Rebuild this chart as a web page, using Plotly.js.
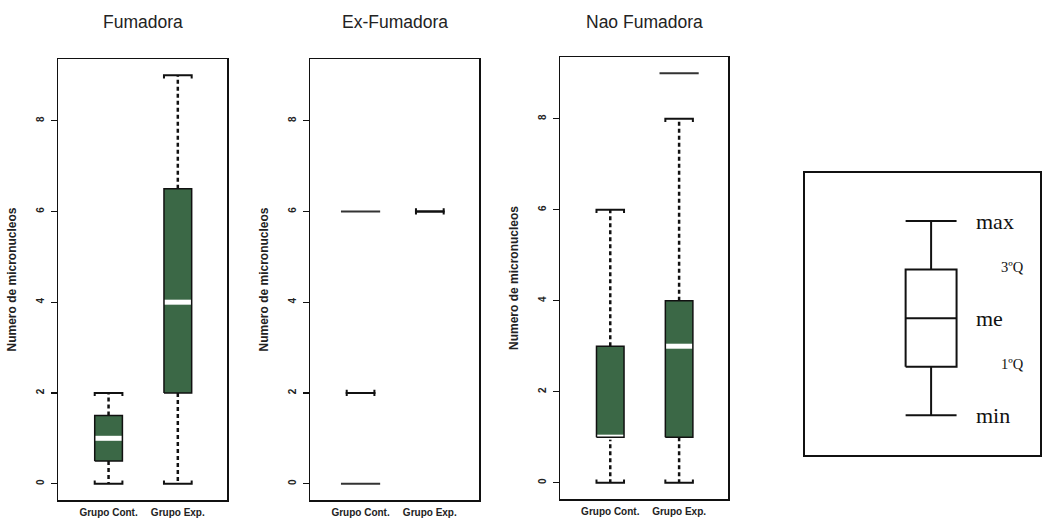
<!DOCTYPE html>
<html>
<head>
<meta charset="utf-8">
<script src="https://cdn.plot.ly/plotly-3.0.1.min.js"></script>
<style>
  html, body { margin: 0; padding: 0; background: #ffffff; }
  #chart { width: 1045px; height: 520px; }
</style>
</head>
<body>
<div id="chart"></div>
<script>
// Micronucleus counts by smoking status, control vs. exposed group
const groups = ['Grupo Cont.', 'Grupo Exp.'];
const panelTitles = ['Fumadora', 'Ex-Fumadora', 'Nao Fumadora'];
const yTickVals = [0, 2, 4, 6, 8];

// Fumadora: [Grupo Cont., Grupo Exp.]
const fumMin = [0, 0];
const fumQ1 = [0.5, 2];
const fumMed = [1, 4];
const fumQ3 = [1.5, 6.5];
const fumMax = [2, 9];
const fumOut = [[], []];

// Ex-Fumadora
const exMin = [2, 6];
const exQ1 = [2, 6];
const exMed = [2, 6];
const exQ3 = [2, 6];
const exMax = [2, 6];
const exOut = [[0, 6], []];

// Nao Fumadora
const naoMin = [0, 0];
const naoQ1 = [1, 1];
const naoMed = [1, 3];
const naoQ3 = [3, 4];
const naoMax = [6, 8];
const naoOut = [[], [9]];

// Reading key: a schematic box with its five summary points
const keyStats = [0, 1, 2, 3, 4];
const keyLabels = ['min', '1ºQ', 'me', '3ºQ', 'max'];

const GREEN = '#3b6846';
const HALF = 0.2;      // half box width, x data units
const SERIF = 0.07;    // small end ticks on whisker caps, y data units

function boxTraces(ax, mins, q1s, meds, q3s, maxs, outs) {
  const xa = 'x' + ax, ya = 'y' + ax;
  const fills = [], whisk = [], medians = [], outlines = [], caps = [], points = [];
  groups.forEach((g, i) => {
    const c = i + 1;
    const rx = [c - HALF, c + HALF, c + HALF, c - HALF, c - HALF];
    const ry = [q1s[i], q1s[i], q3s[i], q3s[i], q1s[i]];
    if (q3s[i] > q1s[i]) {
      fills.push({x: rx, y: ry, xaxis: xa, yaxis: ya, mode: 'lines', fill: 'toself',
        fillcolor: GREEN, line: {width: 0}, hoverinfo: 'skip', showlegend: false});
      medians.push({x: [c - HALF, c + HALF], y: [meds[i], meds[i]], xaxis: xa, yaxis: ya,
        mode: 'lines', line: {color: '#ffffff', width: 5}, hoverinfo: 'skip', showlegend: false});
      outlines.push({x: rx, y: ry, xaxis: xa, yaxis: ya, mode: 'lines',
        line: {color: '#111111', width: 1.5}, hoverinfo: 'skip', showlegend: false});
    }
    if (maxs[i] > q3s[i] || q1s[i] > mins[i]) {
      whisk.push({x: [c, c, null, c, c], y: [q3s[i], maxs[i], null, q1s[i], mins[i]],
        xaxis: xa, yaxis: ya, mode: 'lines',
        line: {color: '#111111', width: 2.5, dash: '4px,3px'}, hoverinfo: 'skip', showlegend: false});
    }
    caps.push({
      x: [c - HALF, c - HALF, c + HALF, c + HALF, null, c - HALF, c - HALF, c + HALF, c + HALF],
      y: [maxs[i] - SERIF, maxs[i], maxs[i], maxs[i] - SERIF, null,
          mins[i] + SERIF, mins[i], mins[i], mins[i] + SERIF],
      xaxis: xa, yaxis: ya, mode: 'lines', line: {color: '#111111', width: 2},
      hoverinfo: 'skip', showlegend: false});
    if (outs[i].length) {
      points.push({x: outs[i].map(() => c), y: outs[i], xaxis: xa, yaxis: ya, mode: 'markers',
        marker: {symbol: 'line-ew', size: 28, line: {color: '#333333', width: 2}},
        hoverinfo: 'skip', showlegend: false});
    }
  });
  return [...fills, ...whisk, ...medians, ...outlines, ...caps, ...points];
}

// Schematic key box (white, solid whiskers)
function keyTraces() {
  const [mn, q1, md, q3, mx] = keyStats;
  const c = 1, xa = 'x4', ya = 'y4';
  const line = {color: '#111111', width: 2};
  return [
    {x: [c - HALF, c + HALF, c + HALF, c - HALF, c - HALF], y: [q1, q1, q3, q3, q1],
      xaxis: xa, yaxis: ya, mode: 'lines', line: line, hoverinfo: 'skip', showlegend: false},
    {x: [c - HALF, c + HALF], y: [md, md], xaxis: xa, yaxis: ya, mode: 'lines', line: line,
      hoverinfo: 'skip', showlegend: false},
    {x: [c, c, null, c, c], y: [q3, mx, null, q1, mn], xaxis: xa, yaxis: ya, mode: 'lines',
      line: line, hoverinfo: 'skip', showlegend: false},
    {x: [c - HALF, c + HALF, null, c - HALF, c + HALF], y: [mx, mx, null, mn, mn],
      xaxis: xa, yaxis: ya, mode: 'lines', line: line, hoverinfo: 'skip', showlegend: false}
  ];
}

const traces = [
  ...boxTraces('', fumMin, fumQ1, fumMed, fumQ3, fumMax, fumOut),
  ...boxTraces('2', exMin, exQ1, exMed, exQ3, exMax, exOut),
  ...boxTraces('3', naoMin, naoQ1, naoMed, naoQ3, naoMax, naoOut),
  ...keyTraces()
];

const W = 1045, H = 520;
const px = (a, b) => [a / W, b / W];
const py = (top, bottom) => [1 - bottom / H, 1 - top / H];

const sans = 'Liberation Sans, Arial, sans-serif';
function xAxis(dom, anchor) {
  return {domain: dom, anchor: anchor, range: [0.27, 2.71], showline: true, mirror: true,
    linecolor: '#111111', linewidth: 1.5, showgrid: false, zeroline: false, ticks: '',
    tickvals: [1, 2], ticktext: groups,
    tickfont: {family: sans, size: 10, weight: 'bold', color: '#222222'}, ticklabelstandoff: 2,
    fixedrange: true};
}
function yAxis(dom, anchor) {
  return {domain: dom, anchor: anchor, range: [-0.36, 9.36], showline: true, mirror: true,
    linecolor: '#111111', linewidth: 1.5, showgrid: false, zeroline: false, ticks: 'outside',
    ticklen: 6, tickwidth: 1.2, tickcolor: '#111111', tickvals: yTickVals, tickangle: -90,
    tickfont: {family: sans, size: 10, weight: 'bold', color: '#222222'}, ticklabelstandoff: 3,
    title: {text: 'Numero de micronucleos', standoff: 15,
      font: {family: 'Liberation Sans Narrow, Liberation Sans, sans-serif', size: 12, weight: 'bold', color: '#222222'}},
    fixedrange: true};
}

const panelX = [px(58, 227), px(310, 479), px(560, 728)];
const panelY = [py(59, 500), py(59, 500), py(57, 499)];

const annotations = panelTitles.map((t, i) => ({
  text: t, xref: (i === 0 ? 'x' : 'x' + (i + 1)) + ' domain', x: 0.5, yref: 'paper', y: 1 - 22 / H,
  xanchor: 'center', yanchor: 'middle', showarrow: false,
  font: {family: sans, size: 17.5, color: '#222222'}
}));
keyLabels.forEach((lab, i) => {
  const big = lab.indexOf('Q') < 0;
  annotations.push({
    text: lab, xref: 'x4', yref: 'y4', x: big ? 1.34 : 1.53, y: keyStats[i] + (big ? 0 : 0.06),
    xanchor: 'left', yanchor: 'middle', showarrow: false,
    font: {family: 'Liberation Serif, Times New Roman, serif', size: big ? 22 : 14.5, color: '#111111'}
  });
});

const layout = {
  width: W, height: H, margin: {l: 0, r: 0, t: 0, b: 0},
  paper_bgcolor: '#ffffff', plot_bgcolor: '#ffffff', showlegend: false,
  xaxis: xAxis(panelX[0], 'y'), yaxis: yAxis(panelY[0], 'x'),
  xaxis2: xAxis(panelX[1], 'y2'), yaxis2: yAxis(panelY[1], 'x2'),
  xaxis3: xAxis(panelX[2], 'y3'), yaxis3: yAxis(panelY[2], 'x3'),
  xaxis4: {domain: px(805, 1040), anchor: 'y4', range: [0.01, 1.855], showline: true, mirror: true,
    linecolor: '#111111', linewidth: 2, showgrid: false, zeroline: false, showticklabels: false,
    ticks: '', fixedrange: true},
  yaxis4: {domain: py(173, 455), anchor: 'x4', range: [-0.82, 4.99], showline: true, mirror: true,
    linecolor: '#111111', linewidth: 2, showgrid: false, zeroline: false, showticklabels: false,
    ticks: '', fixedrange: true},
  annotations: annotations
};

Plotly.newPlot('chart', traces, layout, {staticPlot: true, displayModeBar: false});
</script>
</body>
</html>
